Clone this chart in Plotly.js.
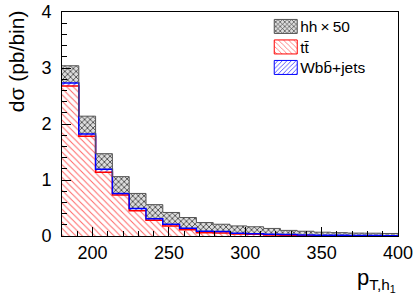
<!DOCTYPE html>
<html>
<head>
<meta charset="utf-8">
<script src="https://cdn.plot.ly/plotly-3.0.1.min.js"></script>
<style>html,body{margin:0;padding:0;background:#fff;}#chart{width:415px;height:296px;}</style>
</head>
<body>
<div id="chart"></div>
<script>
// bin edges of p_T,h1 (GeV)
const binEdges = [180,191,202,213,224,235,246,257,268,279,290,301,312,323,334,345,356,367,378,389,400];
// per-bin cross sections (pb/bin)
const ttbar = [2.68,1.78,1.14,0.73,0.45,0.28,0.18,0.11,0.06,0.055,0.035,0.03,0.02,0.015,0.012,0.01,0.008,0.006,0.005,0.004];
const wbbJets = [0.05,0.04,0.05,0.03,0.04,0.03,0.03,0.03,0.025,0.025,0.015,0.01,0.01,0.01,0.008,0.005,0.004,0.004,0.003,0.002];
const hhX50 = [0.31,0.32,0.28,0.30,0.27,0.25,0.21,0.19,0.155,0.13,0.13,0.125,0.105,0.075,0.065,0.053,0.048,0.042,0.042,0.039];
const names = ["hh\u2009\u00d7\u200950", "tt\u0304", "Wbb\u0304+jets"];
const xTickVals = [200,250,300,350,400];
const yTickVals = [0,1,2,3,4];

function stackOn(base, vals){ return base.map((b,i)=>b+vals[i]); }
function stepY(vals){ return vals.concat([vals[vals.length-1]]); }

const zeros = ttbar.map(()=>0);
const topTT = stackOn(zeros, ttbar);
const topW = stackOn(topTT, wbbJets);
const topHH = stackOn(topW, hhX50);

const styles = {
  tt: {line:'#ff0000', pat:{shape:'\\', fgcolor:'#ff6666', bgcolor:'#ffffff', size:4.5, solidity:0.22}},
  wbb:{line:'#0000ff', pat:{shape:'/', fgcolor:'#3333ff', bgcolor:'#ffffff', size:4, solidity:0.25}},
  hh: {line:'#555555', pat:{shape:'x', fgcolor:'#333333', bgcolor:'#dddddd', size:4, solidity:0.35}}
};

const traces = [
  {x: binEdges, y: stepY(topTT), type:'scatter', mode:'lines', showlegend:false,
   line:{shape:'hv', color:styles.tt.line, width:1.5}, fill:'tozeroy', fillcolor:'rgba(0,0,0,0)',
   fillpattern:styles.tt.pat},
  {x: binEdges, y: stepY(topW), type:'scatter', mode:'lines', showlegend:false,
   line:{shape:'hv', color:styles.wbb.line, width:1.5}, fill:'tonexty', fillcolor:'rgba(0,0,0,0)',
   fillpattern:styles.wbb.pat},
  {x: binEdges, y: stepY(topHH), type:'scatter', mode:'lines', showlegend:false,
   line:{shape:'hv', color:styles.hh.line, width:1}, fill:'tonexty', fillcolor:'rgba(0,0,0,0)',
   fillpattern:styles.hh.pat},
  // legend entries
  {x:[null], y:[null], type:'bar', name:names[0], marker:{color:'#dddddd', pattern:styles.hh.pat, line:{color:styles.hh.line, width:1}}},
  {x:[null], y:[null], type:'bar', name:names[1], marker:{color:'#ffffff', pattern:styles.tt.pat, line:{color:styles.tt.line, width:1}}},
  {x:[null], y:[null], type:'bar', name:names[2], marker:{color:'#ffffff', pattern:styles.wbb.pat, line:{color:styles.wbb.line, width:1}}}
];

const font = {family:'Liberation Sans, Arial, sans-serif', color:'#000'};
const layout = {
  width:415, height:296,
  margin:{l:62, r:17, t:11, b:60},
  paper_bgcolor:'#fff', plot_bgcolor:'#fff',
  font: Object.assign({size:18}, font),
  showlegend:true,
  legend:{x:0.59, y:1.005, xanchor:'left', yanchor:'top', bgcolor:'rgba(0,0,0,0)', traceorder:'normal',
          font:{size:15.5, family:font.family, color:'#000'}, tracegroupgap:0, itemwidth:30},
  xaxis:{range:[180,400], tickvals:xTickVals, ticktext:xTickVals.map(String), ticks:'inside', ticklen:9,
         tickcolor:'#000', linecolor:'#000', linewidth:1, mirror:true, showgrid:false, zeroline:false,
         tickfont:{size:18}, minor:{dtick:10, ticks:'inside', ticklen:5, tickcolor:'#000'}},
  yaxis:{range:[0,4], tickvals:yTickVals, ticktext:yTickVals.map(String), ticks:'inside', ticklen:9,
         tickcolor:'#000', linecolor:'#000', linewidth:1, mirror:true, showgrid:false, zeroline:false,
         tickfont:{size:18}, ticklabelstandoff:6, minor:{dtick:0.2, ticks:'inside', ticklen:5, tickcolor:'#000'}},
  annotations:[
    {text:'d\u03c3 (pb/bin)', xref:'paper', yref:'paper', x:-0.135, y:1.015, xanchor:'center', yanchor:'top',
     textangle:-90, showarrow:false, font:{size:21}},
    {text:'p<sub>T,h<sub>1</sub></sub>', xref:'paper', yref:'paper', x:1.0, y:-0.12, xanchor:'right', yanchor:'top',
     showarrow:false, font:{size:22}}
  ]
};
Plotly.newPlot('chart', traces, layout, {staticPlot:true, displayModeBar:false}).then(function(gd){
  // widen legend boxes to ROOT-like rectangles
  gd.querySelectorAll('.legend .legendpoints path').forEach(function(p){
    p.setAttribute('d','M17,7H-6V-7H17Z');
  });
  // tighten legend row spacing
  var items = gd.querySelectorAll('.legend .traces');
  var y0 = null;
  items.forEach(function(g, i){
    var m = /translate\(\s*([-\d.]+)[ ,]+([-\d.]+)\s*\)/.exec(g.getAttribute('transform') || '');
    if(!m) return;
    var x = parseFloat(m[1]), y = parseFloat(m[2]);
    if(y0 === null) y0 = y;
    g.setAttribute('transform', 'translate(' + x + ',' + (y0 + i * 20.5) + ')');
  });
});
</script>
</body>
</html>
